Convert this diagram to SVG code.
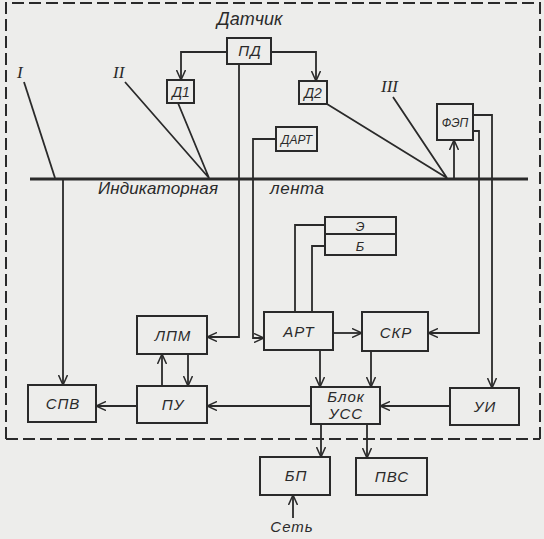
<svg xmlns="http://www.w3.org/2000/svg" width="544" height="539" viewBox="0 0 544 539">
<style>
.bx{fill:none;stroke:#2a2a2a;stroke-width:2}
.ln{fill:none;stroke:#2a2a2a;stroke-width:1.8}
.ar{fill:none;stroke:#2a2a2a;stroke-width:1.8;marker-end:url(#arr)}
.t{font-family:"Liberation Sans","DejaVu Sans",sans-serif;font-style:italic;font-size:15px;letter-spacing:1px;fill:#2a2a2a;text-anchor:middle}
.lab{font-family:"Liberation Sans","DejaVu Sans",sans-serif;font-style:italic;font-size:17px;fill:#2a2a2a}
.rn{font-family:"Liberation Serif","DejaVu Serif",serif;font-style:italic;font-size:17px;fill:#2a2a2a}
.dash{fill:none;stroke:#2a2a2a;stroke-width:2;stroke-dasharray:12,5}
</style>
<defs>
<marker id="arr" viewBox="0 0 10 10" refX="10" refY="5" markerWidth="10" markerHeight="10" markerUnits="userSpaceOnUse" orient="auto">
<path d="M0,0.5 L10,5 L0,9.5" fill="none" stroke="#2a2a2a" stroke-width="1.5"/>
</marker>
</defs>
<rect x="0" y="0" width="544" height="539" fill="#ededeb"/>
<g id="frame">
<path class="dash" d="M6,439 L6,3 L540,3 L540,439"/>
<path class="dash" d="M6,439 L540,439"/>
<text class="lab" x="217" y="25" style="font-size:18px">Датчик</text>
</g>
<g id="tape">
<line x1="30" y1="179" x2="528" y2="179" stroke="#2a2a2a" stroke-width="3"/>
<text class="lab" x="98" y="194" textLength="120">Индикаторная</text>
<text class="lab" x="270" y="194" textLength="54">лента</text>
<text class="rn" x="17" y="78">I</text>
<text class="rn" x="113" y="78">II</text>
<text class="rn" x="381" y="92">III</text>
</g>
<g id="PD"><rect class="bx" x="227" y="38" width="44" height="26"/><text class="t" x="250" y="56">ПД</text></g>
<g id="D1"><rect class="bx" x="167" y="80" width="27" height="23"/><text class="t" x="181" y="97" style="font-size:14px;letter-spacing:0">Д1</text></g>
<g id="D2"><rect class="bx" x="299" y="81" width="28" height="23"/><text class="t" x="313" y="98" style="font-size:14px;letter-spacing:0">Д2</text></g>
<g id="DART"><rect class="bx" x="276" y="127" width="41" height="24"/><text class="t" x="296.5" y="144" style="font-size:12px;letter-spacing:0">ДАРТ</text></g>
<g id="FEP"><rect class="bx" x="437" y="104" width="36" height="36"/><text class="t" x="455" y="127" style="font-size:12px;letter-spacing:0">ФЭП</text></g>
<g id="EB"><rect class="bx" x="325" y="217" width="71" height="38"/><line class="ln" x1="325" y1="234" x2="396" y2="234"/><text class="t" x="360" y="231" style="font-size:13px;letter-spacing:0">Э</text><text class="t" x="360" y="251" style="font-size:13px;letter-spacing:0">Б</text></g>
<g id="LPM"><rect class="bx" x="137" y="316" width="70" height="38"/><text class="t" x="173" y="341">ЛПМ</text></g>
<g id="ART"><rect class="bx" x="264" y="312" width="69" height="38"/><text class="t" x="299" y="337">АРТ</text></g>
<g id="SKR"><rect class="bx" x="362" y="312" width="66" height="39"/><text class="t" x="396" y="338">СКР</text></g>
<g id="SPV"><rect class="bx" x="28" y="385" width="68" height="37"/><text class="t" x="63" y="409">СПВ</text></g>
<g id="PU"><rect class="bx" x="137" y="386" width="70" height="37"/><text class="t" x="173" y="410">ПУ</text></g>
<g id="USS"><rect class="bx" x="311" y="387" width="69" height="37"/><text class="t" x="346" y="402">Блок</text><text class="t" x="346" y="419">УСС</text></g>
<g id="UI"><rect class="bx" x="450" y="388" width="69" height="37"/><text class="t" x="485" y="412">УИ</text></g>
<g id="BP"><rect class="bx" x="260" y="457" width="70" height="38"/><text class="t" x="296" y="481">БП</text></g>
<g id="PVS"><rect class="bx" x="356" y="458" width="71" height="37"/><text class="t" x="392" y="482">ПВС</text></g>
<g id="set"><text class="t" x="292" y="532">Сеть</text></g>
<g id="connectors">
<path class="ar" d="M227,52 L181,52 L181,80"/>
<path class="ar" d="M271,52 L316,52 L316,81"/>
<path class="ar" d="M239,64 L239,337 L207,337"/>
<path class="ar" d="M276,139 L253,139 L253,338 L264,338"/>
<path class="ln" d="M24,82 L55,178"/>
<path class="ln" d="M125,82 L209,178 L178,103"/>
<path class="ln" d="M393,97 L447,178 L327,104"/>
<path class="ar" d="M63,179 L63,385"/>
<path class="ar" d="M454,179 L454,140"/>
<path class="ar" d="M473,115 L492,115 L492,388"/>
<path class="ar" d="M473,131 L479,131 L479,333 L428,333"/>
<path class="ln" d="M325,225 L295,225 L295,312"/>
<path class="ln" d="M325,246 L312,246 L312,312"/>
<path class="ar" d="M333,333 L362,333"/>
<path class="ar" d="M320,350 L320,387"/>
<path class="ar" d="M371,351 L371,387"/>
<path class="ar" d="M450,406 L380,406"/>
<path class="ar" d="M311,406 L207,406"/>
<path class="ar" d="M137,406 L96,406"/>
<path class="ar" d="M162,386 L162,354"/>
<path class="ar" d="M188,354 L188,386"/>
<path class="ar" d="M321,424 L321,457"/>
<path class="ar" d="M367,424 L367,458"/>
<path class="ar" d="M293,518 L293,495"/>
</g>
</svg>
